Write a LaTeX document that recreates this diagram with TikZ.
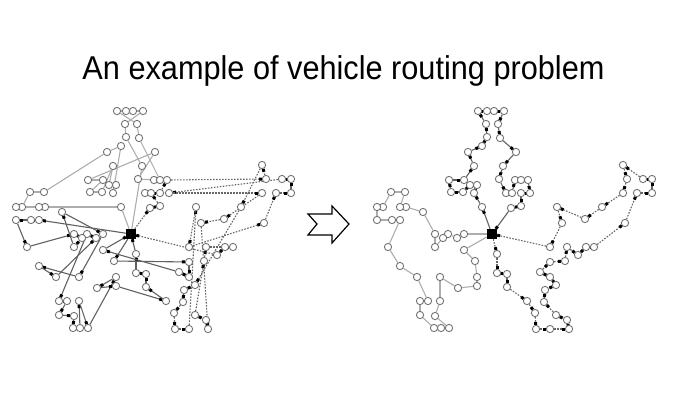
\documentclass[tikz,border=0pt]{standalone}
\usepackage{fontspec}
\setmainfont{Liberation Sans}
\usetikzlibrary{arrows.meta,backgrounds}
\newcommand\placeall[1]{%
  \node[depot] (#1D) at (492,234) {};
  \foreach \n/\x/\y in {t1/482/207, t2/474/193, t3/477/185, t4/470/185, t5/463/192, t6/451/192,
    t7/449/180, t8/464/180, t9/474/166, t10/468/152, t11/482/146, t12/487/137, t13/486/124,
    t14/478/111, t15/487/111, t16/494/111, t17/504/111, t18/498/124, t19/500/138, t20/516/152,
    t21/503/166, t22/499/179, t23/506/193, t24/512/193, t25/515/180, t26/521/180, t27/528/180,
    t28/530/193, t29/521/193, t30/521/206, t31/511/208,
    l1/464/234, l2/457/238, l3/448/234, l4/443/238, l5/435/247, l6/435/234, l7/423/212,
    l8/406/207, l9/400/207, l10/405/192, l11/391/192, l12/383/207, l13/377/207, l14/377/220,
    l15/392/220, l16/400/220, l17/388/247, l18/400/266, l19/417/277, l20/428/301, l21/420/301,
    l22/420/315, l23/434/328, l24/441/328, l25/449/328, l26/435/316, l27/440/301, l28/440/277,
    l29/458/288, l30/477/286, l31/477/277, l32/475/261, l33/464/250,
    r1/497/254, r2/497/273, r3/507/274, r4/507/287, r5/527/301, r6/535/313, r7/536/329,
    r8/550/329, r9/569/329, r10/567/320, r11/556/315, r12/544/302, r13/545/290, r14/556/285,
    r15/550/277, r16/540/272, r17/550/262, r18/565/261, r19/567/247, r20/578/255, r21/586/247,
    r22/594/247, r23/625/223, r24/637/193, r25/652/193, r26/652/179, r27/643/179, r28/623/165,
    r29/627/179, r30/623/193, r31/602/207, r32/585/219, r33/557/207, r34/562/223, r35/550/247}
    {\node[cust] (#1\n) at (\x,\y) {};}%
}
\newcommand\drawroute[3]{%
  \foreach \n [remember=\n as \lastn (initially D)] in {#3}
    {\draw[#1] (#2\lastn) -- (#2\n);}%
}
\begin{document}
\begin{tikzpicture}[x=1pt,y=-1pt,
  cust/.style={circle,draw=black!55,line width=0.9pt,fill=white,minimum size=7.3pt,inner sep=0pt},
  depot/.style={rectangle,fill=black,minimum size=10pt,inner sep=0pt},
  darkroute/.style={draw=black!62,line width=1.1pt,-{Square[length=3pt,width=3pt,color=black]}},
  lightroute/.style={draw=black!32,line width=1.1pt},
  dotroute/.style={draw=black!60,line width=1.1pt,dash pattern=on 1.6pt off 1.4pt,
    -{Square[length=3pt,width=3pt,color=black]}},
  bigarrow/.style={draw=black,line width=1.2pt,fill=white,line join=miter}
  ]
\useasboundingbox (0,0) rectangle (680,400);
\node[anchor=base] (title) at (343.5,79)
  {\fontsize{33}{38}\selectfont\scalebox{0.93}[1]{An example of vehicle routing problem}};

\begin{scope}[xshift=-361pt]
  \placeall{a}
\end{scope}
\placeall{b}

\begin{scope}[on background layer]
  % left picture: a poor solution
  \drawroute{lightroute}{a}{t21,t12,t13,t17,t16,t15,t14,t18,t19,t26,t25,t22,t20,t7,t8,t6,t5,t9,t4,t3,t2,t11,t10,l10,l11,l12,l13,l9,l8,t1,D}
  \drawroute{dotroute}{a}{t31,t30,t24,t23,t29,t27,r29,r28,r31,r14,r13,r12,r6,r7,r8,r33,r35,r23,r24,r25,r26,r27,t28,r30,r32,r34,r9,r10,r11,r18,r19,r22,r21,r20,D}
  \drawroute{darkroute}{a}{l16,l15,l14,l17,l6,l4,l5,l7,l1,l28,l18,l19,l2,l3,l21,l20,l22,l26,l23,l24,l27,l25,l31,l29,l30,r5,r4,r3,r2,r1,D}
  \drawroute{darkroute}{a}{l32,r17,r15,r16,l33,D}
  % right picture: an improved solution
  \drawroute{darkroute}{b}{t1,t2,t3,t4,t5,t6,t7,t8,t9,t10,t11,t12,t13,t14,t15,t16,t17,t18,t19,t20,t21,t22,t23,t24,t25,t26,t27,t28,t29,t30,t31,D}
  \drawroute{lightroute}{b}{l1,l2,l3,l4,l5,l6,l7,l8,l9,l10,l11,l12,l13,l14,l15,l16,l17,l18,l19,l20,l21,l22,l23,l24,l25,l26,l27,l28,l29,l30,l31,l32,l33,D}
  \drawroute{dotroute}{b}{r1,r2,r3,r4,r5,r6,r7,r8,r9,r10,r11,r12,r13,r14,r15,r16,r17,r18,r19,r20,r21,r22,r23,r24,r25,r26,r27,r28,r29,r30,r31,r32,r33,r34,r35,D}
\end{scope}

\draw[bigarrow] (308,214) -- (332,214) -- (332,206) -- (349,224) -- (332,243)
  -- (332,235) -- (308,235) -- (317,224) -- cycle;
\end{tikzpicture}
\end{document}
